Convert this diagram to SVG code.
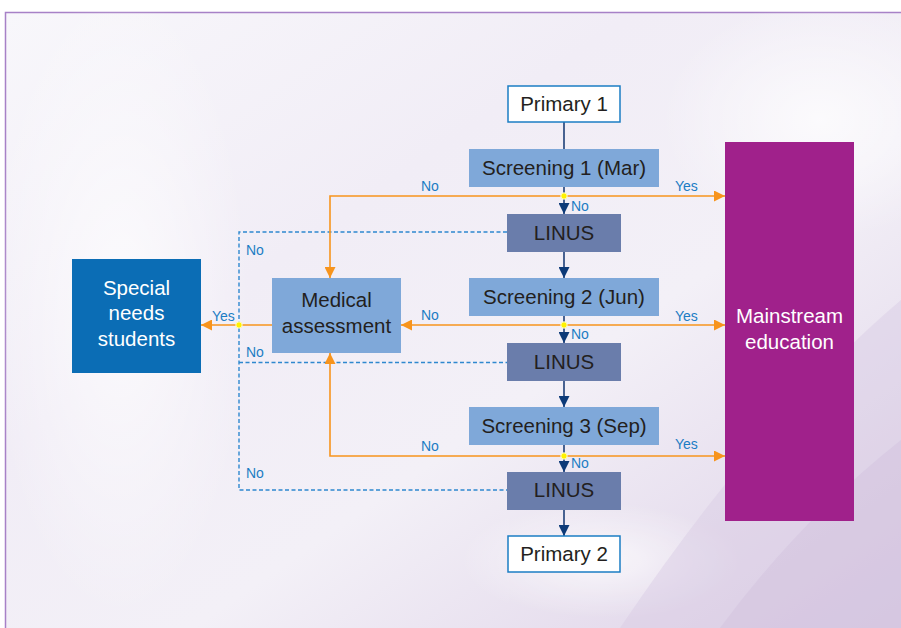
<svg xmlns="http://www.w3.org/2000/svg" width="901" height="628" viewBox="0 0 901 628">
<defs>
<style>
.bt{font-family:"Liberation Sans",Arial,sans-serif;font-size:20.5px;fill:#231f20;text-anchor:middle}
.wt{font-family:"Liberation Sans",Arial,sans-serif;font-size:20.5px;fill:#ffffff;text-anchor:middle}
.lb{font-family:"Liberation Sans",Arial,sans-serif;font-size:14px;fill:#1b7dc4}
.nv{stroke:#1d3f78;stroke-width:1.6;fill:none}
.or{stroke:#f7941d;stroke-width:1.6;fill:none}
.ds{stroke:#2e88cf;stroke-width:1.4;stroke-dasharray:4 2.5;fill:none}
.scr{fill:#7fa8d9}
.lin{fill:#6a7dab}
.dot{fill:#fff200;stroke:#fffbd0;stroke-width:1}
</style>
<marker id="an" viewBox="0 0 10 10" refX="10" refY="5" markerWidth="11" markerHeight="11" markerUnits="userSpaceOnUse" orient="auto"><path d="M0,0L10,5L0,10z" fill="#0d3a78"/></marker>
<marker id="ao" viewBox="0 0 10 10" refX="10" refY="5" markerWidth="11" markerHeight="11" markerUnits="userSpaceOnUse" orient="auto"><path d="M0,0L10,5L0,10z" fill="#f7941d"/></marker>
<linearGradient id="bg" x1="0" y1="0" x2="1" y2="1">
<stop offset="0" stop-color="#f8f7fb"/>
<stop offset="0.35" stop-color="#f1edf6"/>
<stop offset="0.6" stop-color="#f3f0f7"/>
<stop offset="1" stop-color="#dccfe6"/>
</linearGradient>
<radialGradient id="wh" cx="0.5" cy="0.5" r="0.5">
<stop offset="0" stop-color="#ffffff" stop-opacity="0.9"/>
<stop offset="1" stop-color="#ffffff" stop-opacity="0"/>
</radialGradient>
</defs>
<rect x="0" y="0" width="901" height="628" fill="#ffffff"/>
<rect x="5.5" y="12.5" width="900" height="620" fill="url(#bg)" stroke="#a781c7" stroke-width="1.5"/>
<g id="background" opacity="0.8">
<ellipse cx="120" cy="300" rx="130" ry="320" fill="url(#wh)"/>
<ellipse cx="820" cy="120" rx="160" ry="120" fill="url(#wh)"/>
<ellipse cx="600" cy="560" rx="140" ry="60" fill="url(#wh)"/>
<path d="M620,628 Q760,420 901,300 L901,628 Z" fill="#d8c9e3" opacity="0.5"/>
<path d="M720,628 Q800,520 901,440 L901,628 Z" fill="#cfbddc" opacity="0.5"/>
</g>
<g id="connectors">
<line class="nv" x1="564" y1="122" x2="564" y2="149"/>
<line class="nv" x1="564" y1="187" x2="564" y2="214" marker-end="url(#an)"/>
<line class="nv" x1="564" y1="252" x2="564" y2="278" marker-end="url(#an)"/>
<line class="nv" x1="564" y1="316" x2="564" y2="343" marker-end="url(#an)"/>
<line class="nv" x1="564" y1="381" x2="564" y2="407" marker-end="url(#an)"/>
<line class="nv" x1="564" y1="445" x2="564" y2="472" marker-end="url(#an)"/>
<line class="nv" x1="564" y1="510" x2="564" y2="536" marker-end="url(#an)"/>
<path class="ds" d="M507,232 H239 V490 H507"/>
<line class="ds" x1="239" y1="362.5" x2="507" y2="362.5"/>
<polyline class="or" points="564,196 330,196 330,278" marker-end="url(#ao)"/>
<line class="or" x1="564" y1="196" x2="725" y2="196" marker-end="url(#ao)"/>
<line class="or" x1="564" y1="325" x2="401" y2="325" marker-end="url(#ao)"/>
<line class="or" x1="564" y1="325" x2="725" y2="325" marker-end="url(#ao)"/>
<line class="or" x1="272" y1="325" x2="201" y2="325" marker-end="url(#ao)"/>
<polyline class="or" points="564,456 330,456 330,353" marker-end="url(#ao)"/>
<line class="or" x1="564" y1="456" x2="725" y2="456" marker-end="url(#ao)"/>
<circle class="dot" cx="564" cy="196" r="3.2"/>
<circle class="dot" cx="564" cy="325" r="3.2"/>
<circle class="dot" cx="564" cy="456" r="3.2"/>
<circle class="dot" cx="239" cy="325" r="3.2"/>
<text class="lb" x="421" y="191">No</text>
<text class="lb" x="675" y="191">Yes</text>
<text class="lb" x="571" y="211">No</text>
<text class="lb" x="246" y="255">No</text>
<text class="lb" x="421" y="320">No</text>
<text class="lb" x="675" y="321">Yes</text>
<text class="lb" x="571" y="339">No</text>
<text class="lb" x="212" y="321">Yes</text>
<text class="lb" x="246" y="357">No</text>
<text class="lb" x="421" y="451">No</text>
<text class="lb" x="675" y="449">Yes</text>
<text class="lb" x="571" y="468">No</text>
<text class="lb" x="246" y="478">No</text>
</g>
<g id="primary1">
<rect x="508" y="86" width="112" height="36" fill="#ffffff" stroke="#1b7dc4" stroke-width="1.5"/>
<text class="bt" x="564" y="111">Primary 1</text>
</g>
<g id="screening1">
<rect class="scr" x="469" y="149" width="190" height="38"/>
<text class="bt" x="564" y="175">Screening 1 (Mar)</text>
</g>
<g id="linus1">
<rect class="lin" x="507" y="214" width="114" height="38"/>
<text class="bt" x="564" y="240">LINUS</text>
</g>
<g id="screening2">
<rect class="scr" x="469" y="278" width="190" height="38"/>
<text class="bt" x="564" y="304">Screening 2 (Jun)</text>
</g>
<g id="linus2">
<rect class="lin" x="507" y="343" width="114" height="38"/>
<text class="bt" x="564" y="369">LINUS</text>
</g>
<g id="screening3">
<rect class="scr" x="469" y="407" width="190" height="38"/>
<text class="bt" x="564" y="433">Screening 3 (Sep)</text>
</g>
<g id="linus3">
<rect class="lin" x="507" y="472" width="114" height="38"/>
<text class="bt" x="564" y="497">LINUS</text>
</g>
<g id="primary2">
<rect x="508" y="536" width="112" height="36" fill="#ffffff" stroke="#1b7dc4" stroke-width="1.5"/>
<text class="bt" x="564" y="561">Primary 2</text>
</g>
<g id="medical">
<rect class="scr" x="272" y="278" width="129" height="75"/>
<text class="bt" x="336.5" y="307">Medical</text>
<text class="bt" x="336.5" y="333">assessment</text>
</g>
<g id="special">
<rect x="72" y="259" width="129" height="114" fill="#0b6db5"/>
<text class="wt" x="136.5" y="295">Special</text>
<text class="wt" x="136.5" y="320">needs</text>
<text class="wt" x="136.5" y="346">students</text>
</g>
<g id="mainstream">
<rect x="725" y="142" width="129" height="379" fill="#a0218b"/>
<text class="wt" x="789.5" y="323">Mainstream</text>
<text class="wt" x="789.5" y="349">education</text>
</g>
</svg>
